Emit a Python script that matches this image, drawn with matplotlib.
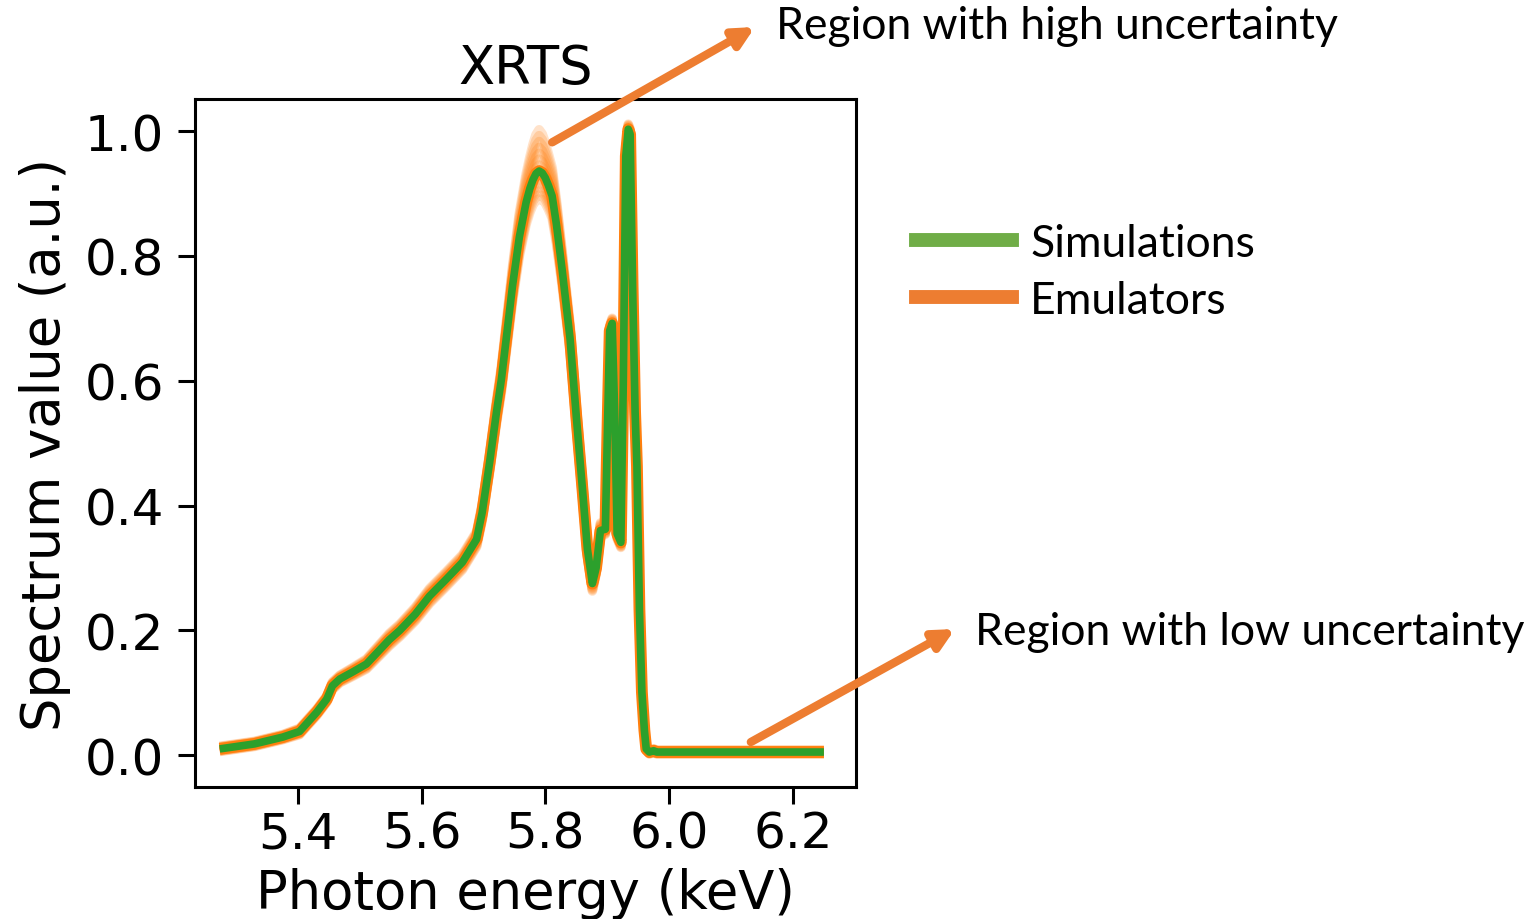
import matplotlib
matplotlib.use("Agg")
import matplotlib.pyplot as plt
from matplotlib.lines import Line2D
import numpy as np

# photon energy (keV) and simulated XRTS spectrum
energy = [5.274, 5.295, 5.330, 5.376, 5.403, 5.431, 5.447, 5.456, 5.468, 5.490,
          5.511, 5.548, 5.565, 5.590, 5.613, 5.640, 5.666, 5.689, 5.698, 5.710,
          5.721, 5.729, 5.747, 5.758, 5.769, 5.775, 5.780, 5.785, 5.790, 5.795,
          5.800, 5.805, 5.811, 5.818, 5.827, 5.840,
          5.850, 5.860, 5.868, 5.876, 5.882, 5.889, 5.897, 5.901, 5.904, 5.908,
          5.912, 5.916, 5.922, 5.926, 5.930, 5.934, 5.937, 5.941, 5.945, 5.948,
          5.952, 5.956, 5.960, 5.963, 5.968, 5.975, 5.980, 6.050, 6.150, 6.250]
simulation = [0.010, 0.013, 0.018, 0.029, 0.038, 0.069, 0.090, 0.111, 0.122, 0.134,
              0.146, 0.185, 0.200, 0.226, 0.255, 0.282, 0.309, 0.346, 0.389, 0.469,
              0.549, 0.602, 0.752, 0.830, 0.886, 0.908, 0.922, 0.932, 0.936, 0.933,
              0.925, 0.913, 0.896, 0.850, 0.779, 0.667,
              0.543, 0.426, 0.330, 0.275, 0.300, 0.360, 0.362, 0.550, 0.680, 0.692,
              0.550, 0.355, 0.341, 0.600, 0.960, 1.003, 0.995, 0.750, 0.550, 0.463,
              0.234, 0.101, 0.040, 0.010, 0.005, 0.007, 0.005, 0.005, 0.005, 0.005]
# spread of the emulator ensemble above / below the simulation
emu_up = [0.004, 0.004, 0.004, 0.004, 0.005, 0.005, 0.005, 0.006, 0.006, 0.007,
          0.008, 0.010, 0.010, 0.011, 0.012, 0.012, 0.012, 0.012, 0.013, 0.015,
          0.018, 0.020, 0.030, 0.038, 0.045, 0.050, 0.056, 0.062, 0.066, 0.062,
          0.056, 0.050, 0.045, 0.038, 0.030, 0.022,
          0.018, 0.014, 0.012, 0.012, 0.010, 0.012, 0.008, 0.008, 0.008, 0.008,
          0.008, 0.008, 0.008, 0.008, 0.008, 0.008, 0.008, 0.008, 0.008, 0.006,
          0.006, 0.005, 0.004, 0.003, 0.003, 0.003, 0.003, 0.003, 0.003, 0.003]
emu_down = [0.004, 0.004, 0.004, 0.004, 0.005, 0.005, 0.005, 0.006, 0.006, 0.007,
            0.008, 0.010, 0.010, 0.011, 0.012, 0.012, 0.012, 0.012, 0.013, 0.015,
            0.018, 0.020, 0.025, 0.030, 0.035, 0.038, 0.040, 0.043, 0.045, 0.043,
            0.040, 0.038, 0.035, 0.030, 0.025, 0.020,
            0.016, 0.013, 0.012, 0.012, 0.010, 0.010, 0.008, 0.008, 0.008, 0.008,
            0.008, 0.008, 0.008, 0.008, 0.008, 0.008, 0.008, 0.008, 0.008, 0.006,
            0.006, 0.005, 0.004, 0.003, 0.003, 0.003, 0.003, 0.003, 0.003, 0.003]

x_ticks = [5.4, 5.6, 5.8, 6.0, 6.2]
y_ticks = [0.0, 0.2, 0.4, 0.6, 0.8, 1.0]

e = np.array(energy)
sim = np.array(simulation)
up = np.array(emu_up)
dn = np.array(emu_down)

plt.rcParams['font.family'] = 'DejaVu Sans'
fig = plt.figure(figsize=(15.29, 9.2), dpi=100)
ax = fig.add_axes([0.1275, 0.1435, 0.4324, 0.7475])

# emulator ensemble drawn as many faint orange curves
for k in np.linspace(-1.0, 1.0, 15):
    offset = up * k if k > 0 else dn * k
    ax.plot(e, sim + offset, color='#ff7f0e', lw=7, alpha=0.22,
            solid_joinstyle='round', solid_capstyle='butt')
ax.plot(e, sim, color='#ff7f0e', lw=8.5, solid_joinstyle='round',
        solid_capstyle='butt')
ax.plot(e, sim, color='#2ca02c', lw=5.5, solid_joinstyle='round',
        solid_capstyle='butt')

ax.set_xlim(5.234, 6.302)
ax.set_ylim(-0.051, 1.051)
ax.set_xticks(x_ticks)
ax.set_xticklabels([f'{t:.1f}' for t in x_ticks])
ax.set_yticks(y_ticks)
ax.set_yticklabels([f'{t:.1f}' for t in y_ticks])
ax.tick_params(labelsize=36, length=12, width=2.2, pad=4)
ax.tick_params(axis='y', pad=10)
for s in ax.spines.values():
    s.set_linewidth(2.2)
ax.set_title('XRTS', fontsize=38, pad=12)
ax.set_xlabel('Photon energy (keV)', fontsize=38, labelpad=7)
ax.set_ylabel('Spectrum value (a.u.)', fontsize=38, labelpad=10)

# legend and annotations (slide text)
office_green = '#70ad47'
office_orange = '#ed7d31'
note_font = 'Lato'
handles = [Line2D([], [], color=office_green, lw=10),
           Line2D([], [], color=office_orange, lw=10)]
fig.legend(handles, ['Simulations', 'Emulators'], loc='upper left',
           bbox_to_anchor=(0.573, 0.80), frameon=False,
           prop={'family': note_font, 'size': 32},
           handlelength=2.15, handletextpad=0.42, labelspacing=0.35)

ax.annotate('', xy=(0.4938, 0.9696), xycoords='figure fraction',
            xytext=(5.811, 0.982), textcoords='data',
            arrowprops=dict(arrowstyle='-|>,head_length=1.2,head_width=0.6',
                            color=office_orange, lw=6, shrinkA=0, shrinkB=0),
            annotation_clip=False)
ax.annotate('', xy=(0.6246, 0.3152), xycoords='figure fraction',
            xytext=(6.132, 0.021), textcoords='data',
            arrowprops=dict(arrowstyle='-|>,head_length=1.2,head_width=0.6',
                            color=office_orange, lw=6, shrinkA=0, shrinkB=0),
            annotation_clip=False)
fig.text(0.5075, 0.9707, 'Region with high uncertainty', family=note_font,
         fontsize=32, va='center', ha='left')
fig.text(0.6377, 0.313, 'Region with low uncertainty', family=note_font,
         fontsize=32, va='center', ha='left')

fig.savefig('out.png', dpi=100)
